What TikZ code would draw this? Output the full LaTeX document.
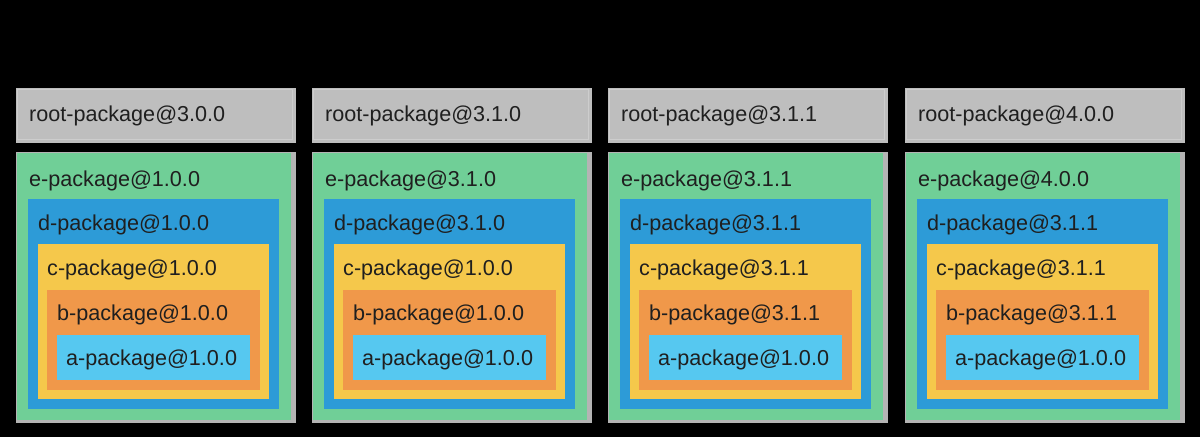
\documentclass[tikz,border=0pt]{standalone}
\usepackage{fontspec}
\setmainfont{Liberation Sans}
\definecolor{rootgrey}{RGB}{190,190,190}
\definecolor{rootedge}{RGB}{205,205,205}
\definecolor{framegrey}{RGB}{180,180,180}
\definecolor{egreen}{RGB}{112,207,151}
\definecolor{dblue}{RGB}{45,155,215}
\definecolor{cyellow}{RGB}{245,200,75}
\definecolor{borange}{RGB}{240,152,74}
\definecolor{alblue}{RGB}{86,200,240}
\begin{document}
\begin{tikzpicture}[x=1pt,y=-1pt,
  lbl/.style={anchor=base west, inner sep=0pt, font=\fontsize{21.6}{26}\selectfont, text=black!88}]
\fill[black] (0,0) rectangle (1200,437);
\useasboundingbox (0,0) rectangle (1200,437);
\foreach \i/\x/\r/\e/\d/\c/\b/\a in {
  1/16/3.0.0/1.0.0/1.0.0/1.0.0/1.0.0/1.0.0,
  2/312/3.1.0/3.1.0/3.1.0/1.0.0/1.0.0/1.0.0,
  3/608/3.1.1/3.1.1/3.1.1/3.1.1/3.1.1/1.0.0,
  4/905/4.0.0/4.0.0/3.1.1/3.1.1/3.1.1/1.0.0}{
  \begin{scope}[shift={(\x,0)}]
    % root box
    \fill[rootgrey] (0,88) rectangle (280,143);
    \draw[rootedge, line width=0.8pt] (1,89) rectangle (276,139);
    \node[lbl] (root\i) at (13,121) {root-package@\r};
    % nested boxes
    \fill[framegrey] (0,152) rectangle (280,423);
    \fill[egreen] (1,153) rectangle (275,420);
    \fill[dblue] (12,199) rectangle (263,409);
    \fill[cyellow] (22,244) rectangle (253,399);
    \fill[borange] (31,290) rectangle (244,390);
    \fill[alblue] (41,335) rectangle (234,380);
    \node[lbl] (e\i) at (13,186) {e-package@\e};
    \node[lbl] (d\i) at (22,230) {d-package@\d};
    \node[lbl] (c\i) at (31,275) {c-package@\c};
    \node[lbl] (b\i) at (41,320) {b-package@\b};
    \node[lbl] (a\i) at (50,365.5) {a-package@\a};
  \end{scope}
}
\end{tikzpicture}
\end{document}
